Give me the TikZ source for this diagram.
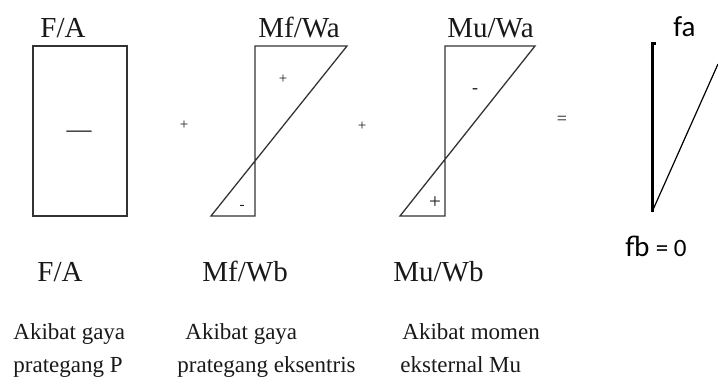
\documentclass[tikz,border=0pt]{standalone}
\usepackage{fontspec}
\setmainfont{Liberation Serif}
\newfontfamily\calibri{Carlito}
\usepackage{tikz}
\usetikzlibrary{arrows.meta, positioning, calc}

\tikzset{
  diag/.style={line width=0.65pt, black!80},
  lbl/.style={anchor=base west, inner sep=0pt, text=black!90, font=\fontsize{14.5}{17}\selectfont},
  captext/.style={anchor=base west, inner sep=0pt, text=black!90, font=\fontsize{11.5}{14}\selectfont},
  sgn/.style={inner sep=0pt, text=black!90, font=\fontsize{7.5}{8}\selectfont},
  res/.style={anchor=base west, inner sep=0pt, font=\calibri\fontsize{14.5}{17}\selectfont}
}

\begin{document}
\begin{tikzpicture}[x=0.5pt, y=-0.5pt, >=Stealth]
  \useasboundingbox (0,0) rectangle (718,379);
  % --- Prestress P (uniform) ---
  \begin{scope}[shift={(33,46)}]
    \draw[diag] (0,0) rectangle (94,170);
    \node[sgn, font=\fontsize{12.5}{14}\selectfont] (pMinus) at (46,88) {\textemdash};
    \node[lbl] (pTop) at (7,-8) {F/A};
    \node[lbl] (pBot) at (4,236) {F/A};
    \node[captext] (pCapA) at (-20,294) {Akibat gaya};
    \node[captext] (pCapB) at (-20,326) {prategang P};
  \end{scope}
  \node[sgn] (plusA) at (184,125) {+};
  % --- Eccentric prestress ---
  \begin{scope}[shift={(255,46)}]
    \draw[diag] (-44,170) -- (0,170) -- (0,0) -- (92,0) -- cycle;
    \node[sgn] (fPlus) at (28,33) {+};
    \node[sgn] (fMinus) at (-13,161) {-};
    \node[lbl] (fTop) at (3,-8) {Mf/Wa};
    \node[lbl] (fBot) at (-53,236) {Mf/Wb};
    \node[captext] (fCapA) at (-70,294) {Akibat gaya};
    \node[captext] (fCapB) at (-78,326) {prategang eksentris};
  \end{scope}
  \node[sgn] (plusB) at (362,126) {+};
  % --- External moment Mu ---
  \begin{scope}[shift={(445,46)}]
    \draw[diag] (-45,170) -- (0,170) -- (0,0) -- (90,0) -- cycle;
    \node[sgn, font=\fontsize{9}{10}\selectfont] (uMinus) at (30,45) {-};
    \node[sgn, font=\fontsize{10.5}{12}\selectfont] (uPlus) at (-10,157) {+};
    \node[lbl] (uTop) at (2,-8) {Mu/Wa};
    \node[lbl] (uBot) at (-52,236) {Mu/Wb};
    \node[captext] (uCapA) at (-43,294) {Akibat momen};
    \node[captext] (uCapB) at (-45,326) {eksternal Mu};
  \end{scope}
  \node[sgn, font=\fontsize{9}{10}\selectfont] (eq) at (562,120) {=};
  % --- Resultant ---
  \coordinate (rTop) at (652,44);
  \coordinate (rBot) at (652,212);
  \coordinate (rEdge) at (718,64);
  \draw[line width=1.5pt] ($(rTop)+(4,0)$) -- (rTop) -- (rBot);
  \draw[line width=0.6pt] (rBot) -- (rEdge);
  \node[res] (fa) at (673,37) {fa};
  \node[res] (fb) at (625,257) {fb {\fontsize{12.5}{14}\selectfont = 0}};
\end{tikzpicture}
\end{document}
